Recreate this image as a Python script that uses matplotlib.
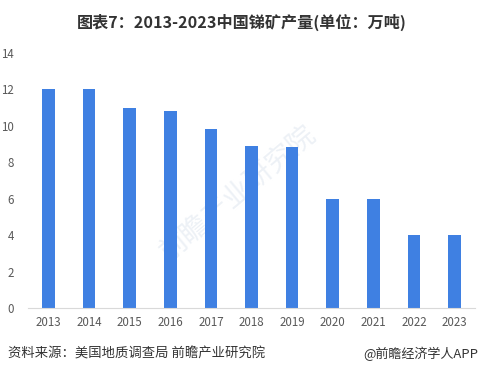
import matplotlib.pyplot as plt

plt.rcParams['font.family'] = ['Noto Sans CJK SC', 'DejaVu Sans']
plt.rcParams['axes.unicode_minus'] = False

years = ['2013', '2014', '2015', '2016', '2017', '2018', '2019', '2020', '2021', '2022', '2023']
output = [12, 12, 11, 10.8, 9.8, 8.9, 8.85, 6, 6, 4, 4]

fig = plt.figure(figsize=(4.83, 3.78), dpi=100)
ax = fig.add_axes([28 / 483, 1 - 308 / 378, 447 / 483, 255 / 378])

ax.bar(range(len(years)), output, width=0.31, color='#3F80E2', zorder=2)
ax.set_xlim(-0.5, len(years) - 0.5)
ax.set_ylim(0, 14)
ax.set_yticks(range(0, 15, 2))
ax.set_xticks(range(len(years)))
ax.set_xticklabels(years)

for s in ['top', 'right', 'left']:
    ax.spines[s].set_visible(False)
ax.spines['bottom'].set_color('#D9D9D9')
ax.tick_params(axis='both', length=0, labelsize=8.3, colors='#595959')
ax.tick_params(axis='y', pad=10)
ax.tick_params(axis='x', pad=6)

# 水印
ax.text(0.47, 0.45, '前瞻产业研究院', transform=ax.transAxes, fontsize=20,
        color='#EDF1F6', rotation=40, ha='center', va='center', zorder=0)

fig.text(0.5, 1 - 22 / 378, '图表7：2013-2023中国锑矿产量(单位：万吨)', fontsize=11.6,
         fontweight='bold', color='#333333', ha='center', va='center')
fig.text(8 / 483, 1 - 354 / 378, '资料来源：美国地质调查局 前瞻产业研究院', fontsize=9.6,
         color='#333333', ha='left', va='center')
fig.text(478 / 483, 1 - 354 / 378, '@前瞻经济学人APP', fontsize=9.4,
         color='#333333', ha='right', va='center')

fig.savefig('out.png', dpi=100)
